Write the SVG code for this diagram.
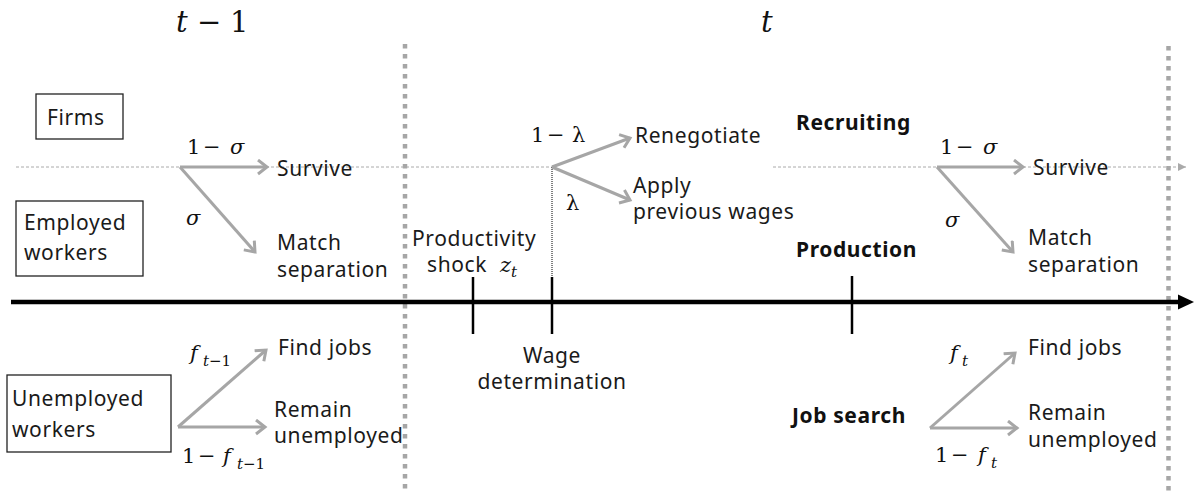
<svg xmlns="http://www.w3.org/2000/svg" width="1196" height="494" viewBox="0 0 1196 494">
<style>
.t{font-family:"Noto Sans","Open Sans",sans-serif;font-size:21px;letter-spacing:0.6px;fill:#1a1a1a}
.b{font-family:"Noto Sans","Open Sans",sans-serif;font-size:21px;letter-spacing:0.6px;font-weight:bold;fill:#111}
.m{font-family:"DejaVu Serif","Liberation Serif",serif;font-size:21px;fill:#111}
.i{font-style:italic}
.s{font-size:15px}
.big{font-size:29px}
.box{fill:#fff;stroke:#222;stroke-width:1.3}
.ga{stroke:#a6a6a6;stroke-width:3;fill:none;marker-end:url(#ah)}
.vd{stroke:#a6a6a6;stroke-width:4.5;stroke-dasharray:4.5 5.5;fill:none}
.hd{stroke:#aaa;stroke-width:1;stroke-dasharray:3 2;fill:none}
.tick{stroke:#000;stroke-width:2.5}
</style>
<defs>
<marker id="ah" markerUnits="userSpaceOnUse" markerWidth="20" markerHeight="20" refX="10" refY="8" orient="auto">
<path d="M1,1 L10,8 L1,15" fill="none" stroke="#a6a6a6" stroke-width="3" stroke-linejoin="miter"/>
</marker>
<marker id="hh" markerUnits="userSpaceOnUse" markerWidth="12" markerHeight="12" refX="8" refY="5" orient="auto">
<path d="M0,1 L8,5 L0,9 Z" fill="#aaa"/>
</marker>
</defs>

<g id="period-labels">
<text class="m i big" x="176" y="32">t</text>
<text class="m big" x="197" y="32">−</text>
<text class="m big" x="230" y="32">1</text>
<text class="m i big" x="761" y="32">t</text>
</g>

<g id="guides">
<line class="vd" x1="405" y1="44" x2="405" y2="494"/>
<line class="vd" x1="1168.5" y1="46" x2="1168.5" y2="494"/>
<line class="hd" x1="16" y1="167" x2="552" y2="167"/>
<line class="hd" x1="773" y1="167" x2="1186" y2="167" marker-end="url(#hh)"/>
<line x1="552" y1="167" x2="552" y2="277" stroke="#000" stroke-width="1" stroke-dasharray="1 1"/>
</g>

<g id="timeline">
<line x1="11" y1="302" x2="1180" y2="302" stroke="#000" stroke-width="4.5"/>
<polygon points="1178,294.5 1194,302 1178,309.5" fill="#000"/>
<line class="tick" x1="473" y1="277" x2="473" y2="334"/>
<line class="tick" x1="552" y1="277" x2="552" y2="334"/>
<line class="tick" x1="852" y1="276" x2="852" y2="334"/>
</g>

<g id="node-firms">
<rect class="box" x="36" y="94" width="87" height="45"/>
<text class="t" x="47" y="125">Firms</text>
</g>
<g id="node-employed">
<rect class="box" x="16" y="201" width="127" height="75"/>
<text class="t" x="24" y="230">Employed</text>
<text class="t" x="24" y="260">workers</text>
</g>
<g id="node-unemployed">
<rect class="box" x="7" y="375" width="164" height="77"/>
<text class="t" x="12" y="406">Unemployed</text>
<text class="t" x="12" y="437">workers</text>
</g>

<g id="connectors">
<line class="ga" x1="180" y1="167" x2="267" y2="167"/>
<line class="ga" x1="180" y1="167" x2="255" y2="252"/>
<line class="ga" x1="552" y1="167" x2="630" y2="138"/>
<line class="ga" x1="552" y1="167" x2="630" y2="200"/>
<line class="ga" x1="937" y1="167" x2="1023" y2="167"/>
<line class="ga" x1="937" y1="167" x2="1013" y2="252"/>
<line class="ga" x1="178" y1="427" x2="265" y2="427"/>
<line class="ga" x1="178" y1="427" x2="266" y2="350"/>
<line class="ga" x1="930" y1="428" x2="1017" y2="428"/>
<line class="ga" x1="930" y1="428" x2="1015" y2="353"/>
</g>

<g id="left-labels">
<text class="m" x="187" y="154">1</text>
<text class="m" x="203" y="154">−</text>
<text class="m i" x="230" y="154">σ</text>
<text class="m i" x="186" y="225">σ</text>
<text class="t" x="277" y="176">Survive</text>
<text class="t" x="277" y="250">Match</text>
<text class="t" x="277" y="277">separation</text>
<text class="m i" x="190" y="360">f</text>
<text class="m i s" x="203" y="366">t</text>
<text class="m s" x="209" y="366">−1</text>
<text class="m" x="182" y="463">1</text>
<text class="m" x="198" y="463">−</text>
<text class="m i" x="223" y="463">f</text>
<text class="m i s" x="237" y="469">t</text>
<text class="m s" x="243" y="469">−1</text>
<text class="t" x="278" y="355">Find jobs</text>
<text class="t" x="274" y="417">Remain</text>
<text class="t" x="274" y="443">unemployed</text>
</g>

<g id="middle-labels">
<text class="t" x="412" y="246">Productivity</text>
<text class="t" x="427" y="272">shock</text>
<text class="m i" x="500" y="272">z</text>
<text class="m i s" x="511" y="277">t</text>
<text class="t" x="552" y="363" text-anchor="middle">Wage</text>
<text class="t" x="552" y="389" text-anchor="middle">determination</text>
<text class="m" x="531" y="142">1</text>
<text class="m" x="547" y="142">−</text>
<text class="m" x="572" y="142">λ</text>
<text class="m" x="566" y="210">λ</text>
<text class="t" x="635" y="143">Renegotiate</text>
<text class="t" x="633" y="193">Apply</text>
<text class="t" x="633" y="219">previous wages</text>
</g>

<g id="right-labels">
<text class="b" x="796" y="130">Recruiting</text>
<text class="b" x="796" y="257">Production</text>
<text class="b" x="792" y="423">Job search</text>
<text class="m" x="940" y="154">1</text>
<text class="m" x="956" y="154">−</text>
<text class="m i" x="983" y="154">σ</text>
<text class="m i" x="945" y="227">σ</text>
<text class="t" x="1033" y="175">Survive</text>
<text class="t" x="1028" y="245">Match</text>
<text class="t" x="1028" y="272">separation</text>
<text class="m i" x="950" y="360">f</text>
<text class="m i s" x="962" y="366">t</text>
<text class="m" x="935" y="462">1</text>
<text class="m" x="951" y="462">−</text>
<text class="m i" x="978" y="462">f</text>
<text class="m i s" x="991" y="468">t</text>
<text class="t" x="1028" y="355">Find jobs</text>
<text class="t" x="1028" y="420">Remain</text>
<text class="t" x="1028" y="447">unemployed</text>
</g>
</svg>
